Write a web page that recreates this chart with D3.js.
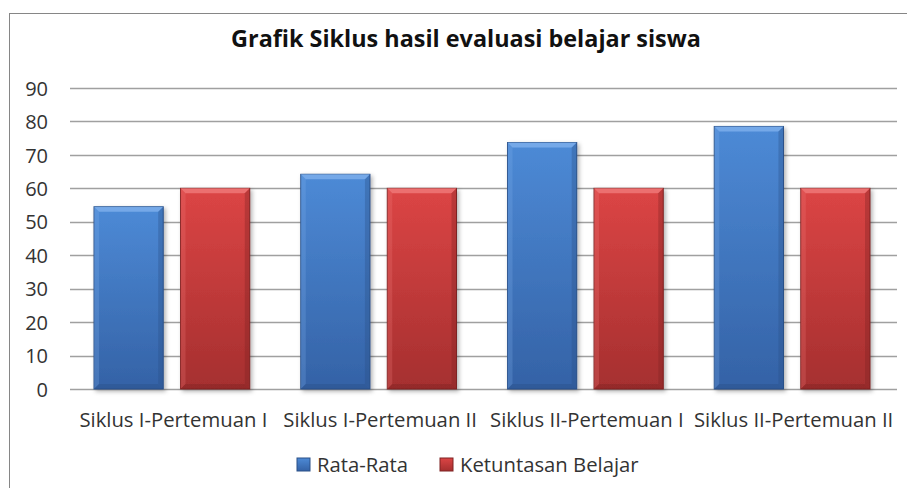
<!DOCTYPE html>
<html>
<head>
<meta charset="utf-8">
<script src="https://cdn.jsdelivr.net/npm/d3@7"></script>
<style>
  body { margin: 0; background: #fff; }
  text { font-family: "Open Sans", "Noto Sans", sans-serif; }
</style>
</head>
<body>
<div id="chart-area"></div>
<script>
const categories = ["Siklus I-Pertemuan I", "Siklus I-Pertemuan II", "Siklus II-Pertemuan I", "Siklus II-Pertemuan II"];
const seriesNames = ["Rata-Rata", "Ketuntasan Belajar"];
const rataRata = [54.5, 64.2, 73.7, 78.5];
const ketuntasan = [60, 60, 60, 60];
const yTicks = [0, 10, 20, 30, 40, 50, 60, 70, 80, 90];

const width = 907, height = 488;
const svg = d3.select("#chart-area").append("svg")
    .attr("width", width)
    .attr("height", height);

// gradients for the bevelled excel look
const defs = svg.append("defs");
const colors = [
  { id: "blue", top: "#4d8ad6", bot: "#3462a6", edge: "#2a5088", light: "#7fb0ec" },
  { id: "red", top: "#dc4545", bot: "#a52f2f", edge: "#7e2222", light: "#f07a7a" }
];
colors.forEach(c => {
  const g = defs.append("linearGradient").attr("id", "g-" + c.id)
      .attr("x1", 0).attr("y1", 0).attr("x2", 0).attr("y2", 1);
  g.append("stop").attr("offset", "0%").attr("stop-color", c.top);
  g.append("stop").attr("offset", "100%").attr("stop-color", c.bot);
});
const shadow = defs.append("filter").attr("id", "shadow")
    .attr("x", "-10%").attr("y", "-10%").attr("width", "130%").attr("height", "130%");
shadow.append("feDropShadow").attr("dx", 2).attr("dy", 2).attr("stdDeviation", 2)
    .attr("flood-color", "#000").attr("flood-opacity", 0.3);

// outer border
svg.append("rect")
    .attr("x", 9.5).attr("y", 13.5)
    .attr("width", 910).attr("height", 490)
    .attr("fill", "none").attr("stroke", "#868686").attr("stroke-width", 1);

svg.append("text")
    .attr("x", 466).attr("y", 47)
    .attr("text-anchor", "middle")
    .attr("font-size", 23.4).attr("font-weight", "bold")
    .attr("fill", "#111")
    .text("Grafik Siklus hasil evaluasi belajar siswa");

const plot = { left: 70, right: 897, top: 88, bottom: 389 };

const y = d3.scaleLinear().domain([0, 90]).range([plot.bottom, plot.top]);
const x0 = d3.scaleBand().domain(categories).range([plot.left, plot.right]).paddingInner(0).paddingOuter(0);
const x1 = d3.scaleBand().domain(seriesNames).range([24, x0.bandwidth() - 27]).paddingInner(0.2);

// gridlines
svg.append("g")
    .selectAll("line").data(yTicks).join("line")
    .attr("x1", plot.left).attr("x2", plot.right)
    .attr("y1", d => Math.round(y(d)) + 0.5).attr("y2", d => Math.round(y(d)) + 0.5)
    .attr("stroke", "#a0a0a0").attr("stroke-width", 1.5);

// y axis labels
const yAxis = d3.axisLeft(y).tickValues(yTicks).tickSize(0).tickPadding(0);
const yg = svg.append("g").attr("transform", `translate(48,0)`).call(yAxis);
yg.select(".domain").remove();
yg.selectAll("text").attr("font-size", 20).attr("fill", "#333").attr("dy", "0.36em")
    .style("font-family", "'Open Sans', 'Noto Sans', sans-serif");

// x axis labels
const xAxis = d3.axisBottom(x0).tickSize(0).tickPadding(0);
const xg = svg.append("g").attr("transform", `translate(0,${plot.bottom + 24})`).call(xAxis);
xg.select(".domain").remove();
xg.selectAll("text").attr("font-size", 20.3).attr("fill", "#333")
    .style("font-family", "'Open Sans', 'Noto Sans', sans-serif");

// bars
const rows = categories.map((c, i) => ({ cat: c, vals: [rataRata[i], ketuntasan[i]] }));
const groups = svg.append("g").selectAll("g").data(rows).join("g")
    .attr("transform", d => `translate(${x0(d.cat)},0)`);

const bevel = 5;
groups.each(function(d) {
  const g = d3.select(this);
  d.vals.forEach((v, si) => {
    const c = colors[si];
    const bx = x1(seriesNames[si]), bw = x1.bandwidth();
    const by = y(v), bh = y(0) - y(v);
    const bar = g.append("g");
    bar.append("rect")
        .attr("x", bx).attr("y", by).attr("width", bw).attr("height", bh)
        .attr("fill", `url(#g-${c.id})`).attr("stroke", c.edge).attr("stroke-width", 1)
        .attr("filter", "url(#shadow)");
    // top bevel highlight
    bar.append("path")
        .attr("d", `M${bx},${by} L${bx + bw},${by} L${bx + bw - bevel},${by + bevel} L${bx + bevel},${by + bevel} Z`)
        .attr("fill", c.light).attr("opacity", 0.8);
    // left bevel
    bar.append("path")
        .attr("d", `M${bx},${by} L${bx + bevel},${by + bevel} L${bx + bevel},${by + bh - bevel} L${bx},${by + bh} Z`)
        .attr("fill", c.light).attr("opacity", 0.25);
    // right bevel (dark)
    bar.append("path")
        .attr("d", `M${bx + bw},${by} L${bx + bw - bevel},${by + bevel} L${bx + bw - bevel},${by + bh - bevel} L${bx + bw},${by + bh} Z`)
        .attr("fill", c.edge).attr("opacity", 0.35);
    // bottom bevel
    bar.append("path")
        .attr("d", `M${bx},${by + bh} L${bx + bevel},${by + bh - bevel} L${bx + bw - bevel},${by + bh - bevel} L${bx + bw},${by + bh} Z`)
        .attr("fill", c.edge).attr("opacity", 0.4);
  });
});

// legend
const legendItems = [
  { name: seriesNames[0], c: colors[0], x: 297 },
  { name: seriesNames[1], c: colors[1], x: 440 }
];
const lg = svg.append("g").selectAll("g").data(legendItems).join("g")
    .attr("transform", d => `translate(${d.x},458)`);
lg.append("rect").attr("width", 13).attr("height", 13)
    .attr("fill", d => `url(#g-${d.c.id})`).attr("stroke", d => d.c.edge);
lg.append("text").attr("x", 20).attr("y", 14)
    .attr("font-size", 20.3).attr("fill", "#333")
    .text(d => d.name);
</script>
</body>
</html>
